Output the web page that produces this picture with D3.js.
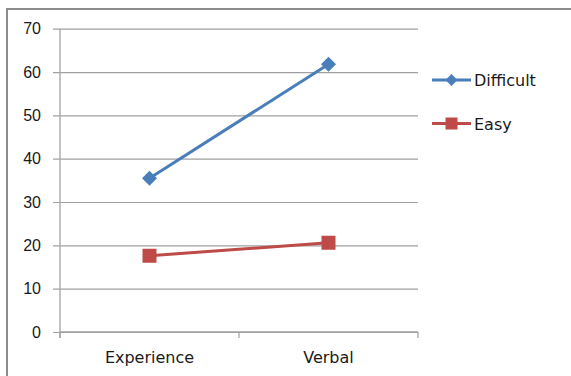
<!DOCTYPE html>
<html>
<head>
<meta charset="utf-8">
<script src="https://cdn.jsdelivr.net/npm/d3@7/dist/d3.min.js"></script>
<style>
  html, body { margin: 0; padding: 0; background: #fff; }
  svg { display: block; font-family: "DejaVu Sans", Verdana, sans-serif; }
</style>
</head>
<body>
<svg id="chart" width="571" height="376"></svg>
<script>
// Task conditions along the x axis
const categories = ["Experience", "Verbal"];
// Mean scores per difficulty level
const difficultValues = [35.5, 61.8];
const easyValues = [17.6, 20.6];
const seriesNames = ["Difficult", "Easy"];
const yTicks = [0, 10, 20, 30, 40, 50, 60, 70];

const series = [
  { name: seriesNames[0], values: difficultValues, color: "#4a7ebb", marker: "diamond" },
  { name: seriesNames[1], values: easyValues, color: "#be4b48", marker: "square" }
];

const svg = d3.select("#chart");

// Outer chart frame
svg.append("rect")
  .attr("x", 7).attr("y", 9)
  .attr("width", 580).attr("height", 380)
  .attr("fill", "none")
  .attr("stroke", "#8c8c8c")
  .attr("stroke-width", 2);

const plot = { left: 60, right: 418, top: 28.7, bottom: 332 };

const x = d3.scaleBand().domain(categories).range([plot.left, plot.right]);
const y = d3.scaleLinear().domain([0, 70]).range([plot.bottom, plot.top]);

// Horizontal gridlines with short tick stubs on the left
const yAxis = d3.axisLeft(y).tickValues(yTicks)
  .tickSize(-(plot.right - plot.left + 7))
  .tickSizeOuter(0).tickPadding(12);
const gy = svg.append("g")
  .attr("transform", `translate(${plot.left - 7},0)`)
  .call(yAxis);
gy.select(".domain").remove();
gy.selectAll(".tick line").attr("stroke", "#a0a0a0").attr("stroke-width", 1.2);
gy.selectAll(".tick text")
  .attr("fill", "#1a1a1a").attr("font-size", "16px");

// Vertical value axis line
svg.append("line")
  .attr("x1", plot.left).attr("x2", plot.left)
  .attr("y1", plot.top).attr("y2", plot.bottom + 6)
  .attr("stroke", "#a8a8a8").attr("stroke-width", 1.4);

// Category axis with boundary ticks
const gx = svg.append("g")
  .attr("transform", `translate(0,${plot.bottom})`);
gx.append("line")
  .attr("x1", plot.left).attr("x2", plot.right)
  .attr("stroke", "#a0a0a0").attr("stroke-width", 1.4);
const bounds = [plot.left].concat(categories.map(c => x(c) + x.bandwidth()));
gx.selectAll("line.bt").data(bounds).enter().append("line")
  .attr("class", "bt")
  .attr("x1", d => d).attr("x2", d => d)
  .attr("y1", 0).attr("y2", 6)
  .attr("stroke", "#a0a0a0").attr("stroke-width", 1.2);
gx.selectAll("text").data(categories).enter().append("text")
  .attr("x", d => x(d) + x.bandwidth() / 2)
  .attr("y", 30.5)
  .attr("text-anchor", "middle")
  .attr("font-size", "16px")
  .attr("fill", "#1a1a1a")
  .text(d => d);

const line = d3.line()
  .x((d, i) => x(categories[i]) + x.bandwidth() / 2)
  .y(d => y(d));

function drawMarker(g, type, cx, cy, color, size) {
  if (type === "diamond") {
    const s = size * 0.75;
    g.append("path")
      .attr("d", `M${cx},${cy - s}L${cx + s},${cy}L${cx},${cy + s}L${cx - s},${cy}Z`)
      .attr("fill", color);
  } else {
    const s = size * 0.5;
    g.append("rect")
      .attr("x", cx - s).attr("y", cy - s)
      .attr("width", 2 * s).attr("height", 2 * s)
      .attr("fill", color);
  }
}

series.forEach(s => {
  const g = svg.append("g");
  g.append("path")
    .datum(s.values)
    .attr("d", line)
    .attr("fill", "none")
    .attr("stroke", s.color)
    .attr("stroke-width", 3);
  s.values.forEach((v, i) => {
    drawMarker(g, s.marker, x(categories[i]) + x.bandwidth() / 2, y(v), s.color, s.marker === "diamond" ? 10 : 14);
  });
});

// Legend
const legend = svg.append("g");
series.forEach((s, i) => {
  const ly = 80 + i * 43.5;
  legend.append("line")
    .attr("x1", 432).attr("x2", 471)
    .attr("y1", ly).attr("y2", ly)
    .attr("stroke", s.color).attr("stroke-width", 3);
  drawMarker(legend, s.marker, 451.5, ly, s.color, s.marker === "diamond" ? 8 : 12);
  legend.append("text")
    .attr("x", 474).attr("y", ly + 6)
    .attr("font-size", "16px")
    .attr("fill", "#1a1a1a")
    .text(s.name);
});
</script>
</body>
</html>
